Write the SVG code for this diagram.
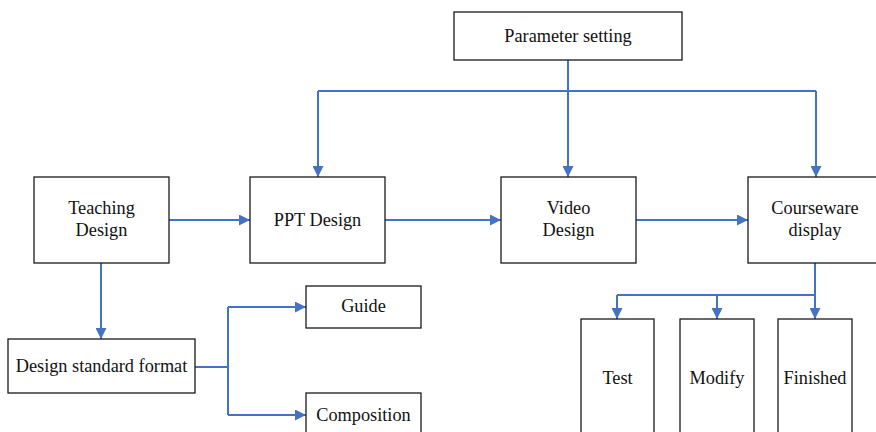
<svg xmlns="http://www.w3.org/2000/svg" width="876" height="432" viewBox="0 0 876 432">
<style>
.box{fill:#fff;stroke:#1a1a1a;stroke-width:1.3}
.t{font-family:"Liberation Serif","Times New Roman",serif;font-size:18.3px;fill:#111;text-anchor:middle}
.c{fill:none;stroke:#4472C4;stroke-width:2}
</style>
<defs>
<marker id="ah" viewBox="0 0 10 10" refX="10" refY="5" markerWidth="11" markerHeight="11" markerUnits="userSpaceOnUse" orient="auto">
<path d="M0,0 L10,5 L0,10 Z" fill="#4472C4"/>
</marker>
</defs>
<rect width="876" height="432" fill="#fff"/>
<g id="connectors">
<path class="c" d="M568,60 V91"/>
<path class="c" d="M318,91 H816"/>
<path class="c" d="M318,91 V177" marker-end="url(#ah)"/>
<path class="c" d="M568,91 V177" marker-end="url(#ah)"/>
<path class="c" d="M816,91 V177" marker-end="url(#ah)"/>
<path class="c" d="M169,220 H250" marker-end="url(#ah)"/>
<path class="c" d="M385,220 H501" marker-end="url(#ah)"/>
<path class="c" d="M636,220 H748" marker-end="url(#ah)"/>
<path class="c" d="M101,263 V339" marker-end="url(#ah)"/>
<path class="c" d="M195,367 H228"/>
<path class="c" d="M228,307 V415"/>
<path class="c" d="M228,307 H306" marker-end="url(#ah)"/>
<path class="c" d="M228,415 H306" marker-end="url(#ah)"/>
<path class="c" d="M815,263 V319" marker-end="url(#ah)"/>
<path class="c" d="M617,295 H815"/>
<path class="c" d="M617,295 V319" marker-end="url(#ah)"/>
<path class="c" d="M717,295 V319" marker-end="url(#ah)"/>
</g>
<g id="param"><rect class="box" x="454" y="12" width="228" height="48"/><text class="t" x="568" y="42">Parameter setting</text></g>
<g id="teaching"><rect class="box" x="34" y="177" width="135" height="86"/><text class="t" x="101.5" y="214">Teaching</text><text class="t" x="101.5" y="236">Design</text></g>
<g id="ppt"><rect class="box" x="250" y="177" width="135" height="86"/><text class="t" x="317.5" y="226">PPT Design</text></g>
<g id="video"><rect class="box" x="501" y="177" width="135" height="86"/><text class="t" x="568.5" y="214">Video</text><text class="t" x="568.5" y="236">Design</text></g>
<g id="courseware"><rect class="box" x="748" y="177" width="135" height="86"/><text class="t" x="815" y="214">Courseware</text><text class="t" x="815" y="236">display</text></g>
<g id="format"><rect class="box" x="8" y="339" width="187" height="54"/><text class="t" x="101.5" y="372">Design standard format</text></g>
<g id="guide"><rect class="box" x="306" y="286" width="115" height="42"/><text class="t" x="363.5" y="312">Guide</text></g>
<g id="composition"><rect class="box" x="306" y="393" width="115" height="50"/><text class="t" x="363.5" y="421">Composition</text></g>
<g id="test"><rect class="box" x="581" y="319" width="73" height="130"/><text class="t" x="617.5" y="384">Test</text></g>
<g id="modify"><rect class="box" x="680" y="319" width="74" height="130"/><text class="t" x="717" y="384">Modify</text></g>
<g id="finished"><rect class="box" x="778" y="319" width="74" height="130"/><text class="t" x="815" y="384">Finished</text></g>
</svg>
